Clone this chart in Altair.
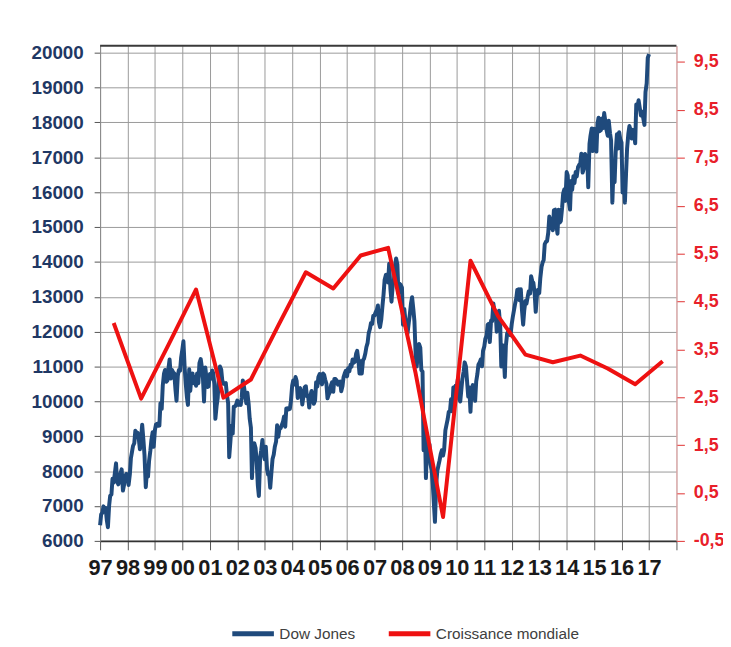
import altair as alt
import pandas as pd

# Dow Jones, semi-monthly readings (1st and 15th of each month)
DOW_1997 = [6448, 6760, 6813, 6990, 6877, 6950, 6584, 6391, 7009, 7290, 7331, 7780,
            7673, 7920, 8223, 7700, 7622, 7750, 7945, 8050, 7442, 7600, 7823, 7920]
DOW_1998 = [7908, 7600, 7907, 8370, 8546, 8720, 8800, 9160, 9063, 9100, 8900, 8630,
            8952, 9330, 8883, 8460, 7539, 7950, 7843, 8300, 8592, 8900, 9117, 8700]
DOW_1999 = [9181, 9340, 9359, 9300, 9307, 9950, 9786, 10460, 10789, 10900, 10560, 10600,
            10971, 11200, 10655, 10900, 10829, 10800, 10337, 10020, 10730, 10900, 10878, 11250]
DOW_2000 = [11497, 11723, 10940, 10500, 10128, 9900, 10922, 10300, 10734, 10800, 10522, 10700,
            10448, 10800, 10522, 11100, 11215, 11000, 10651, 10000, 10971, 10700, 10415, 10430]
DOW_2001 = [10787, 10650, 10887, 10800, 10495, 9500, 9879, 10100, 10735, 11000, 10912, 10600,
            10502, 10500, 10523, 10200, 9950, 8400, 8848, 9300, 9075, 9850, 9852, 9900]
DOW_2002 = [10022, 9900, 9920, 9900, 10106, 10600, 10404, 10200, 9946, 10250, 9925, 9500,
            9243, 7800, 8737, 8800, 8664, 8300, 7592, 7286, 8397, 8600, 8896, 8500]
DOW_2003 = [8342, 8700, 8054, 7900, 7891, 7520, 7992, 8350, 8480, 8700, 8850, 9320,
            8985, 9200, 9234, 9320, 9416, 9570, 9275, 9800, 9801, 9770, 9782, 10000]
DOW_2004 = [10454, 10600, 10488, 10700, 10584, 10100, 10358, 10380, 10226, 9910, 10188, 10400,
            10435, 10150, 10140, 9825, 10174, 10300, 10080, 9930, 10027, 10550, 10428, 10700]
DOW_2005 = [10783, 10560, 10490, 10800, 10766, 10630, 10504, 10090, 10193, 10250, 10467, 10550,
            10275, 10640, 10641, 10600, 10482, 10560, 10569, 10290, 10440, 10700, 10806, 10880]
DOW_2006 = [10718, 10950, 10865, 11050, 10993, 11200, 11109, 11140, 11367, 11450, 11168, 10800,
            11150, 10800, 11186, 11230, 11381, 11560, 11679, 11950, 12081, 12250, 12221, 12450]
DOW_2007 = [12463, 12550, 12622, 12750, 12269, 12130, 12354, 12700, 13063, 13480, 13628, 13640,
            13409, 13950, 13212, 12860, 13358, 13450, 13896, 14100, 13930, 13100, 13372, 13340]
DOW_2008 = [13265, 12200, 12650, 12350, 12266, 11950, 12263, 12500, 12820, 12990, 12638, 12300,
            11350, 11000, 11378, 11650, 11544, 10900, 10851, 8600, 9325, 7800, 8829, 8600]
DOW_2009 = [8776, 8200, 8001, 7600, 7063, 6547, 7609, 8000, 8168, 8300, 8500, 8600,
            8447, 8600, 9172, 9320, 9496, 9700, 9712, 10060, 9713, 10400, 10345, 10450]
DOW_2010 = [10428, 10650, 10067, 10000, 10325, 10650, 10857, 11120, 11009, 10620, 10137, 10400,
            9700, 10360, 10466, 10300, 10015, 10570, 10788, 11060, 11118, 11200, 11006, 11450]
DOW_2011 = [11578, 11800, 11892, 12200, 12226, 11700, 12320, 12300, 12811, 12600, 12570, 12000,
            12414, 12600, 12143, 11000, 11614, 11400, 10700, 11600, 11955, 12000, 12046, 11900]
DOW_2012 = [12218, 12420, 12633, 12800, 12952, 13200, 13212, 12900, 13214, 12650, 12200, 12600,
            12880, 12800, 13009, 13160, 13091, 13590, 13437, 13400, 13096, 12570, 13026, 13200]
DOW_2013 = [13104, 13530, 13861, 13980, 14054, 14510, 14579, 14600, 14840, 15300, 15116, 15000,
            14910, 15480, 15500, 15100, 14810, 15500, 15130, 15170, 15546, 15960, 16086, 15750]
DOW_2014 = [16577, 16480, 15699, 15500, 16322, 16065, 16458, 16260, 16581, 16450, 16717, 16780,
            16827, 17100, 16563, 16660, 17098, 17030, 17043, 16140, 17391, 17630, 17828, 17180]
DOW_2015 = [17823, 17320, 17165, 17970, 18133, 17750, 17776, 18110, 17841, 18270, 18011, 17790,
            17620, 18050, 17690, 17480, 15700, 16600, 16285, 17140, 17664, 17250, 17720, 17520]
DOW_2016 = [17425, 15990, 16466, 15700, 16517, 17250, 17685, 17900, 17774, 17540, 17787, 17670,
            17400, 18516, 18432, 18636, 18401, 18200, 18308, 18140, 17930, 18870, 19124, 19850]
DOW_2017 = [19960]

# World growth (%), annual, plotted at mid-year
GDP_YEARS = list(range(1997, 2018))
GDP_GROWTH = [4.05, 2.47, 3.6, 4.75, 2.49, 2.87, 4.0, 5.11, 4.77, 5.46, 5.62,
              3.0, 0.0, 5.35, 4.2, 3.39, 3.23, 3.37, 3.1, 2.77, 3.25]

SERIES = ["Dow Jones", "Croissance mondiale"]
COLORS = ["#1F4A7C", "#EE1111"]
LEFT_TICKS = list(range(6000, 20001, 1000))
RIGHT_TICKS = [-0.5, 0.5, 1.5, 2.5, 3.5, 4.5, 5.5, 6.5, 7.5, 8.5, 9.5]
X_YEARS = list(range(1997, 2019))

FONT = "Liberation Sans"

dow_values = (DOW_1997 + DOW_1998 + DOW_1999 + DOW_2000 + DOW_2001 + DOW_2002 + DOW_2003
              + DOW_2004 + DOW_2005 + DOW_2006 + DOW_2007 + DOW_2008 + DOW_2009 + DOW_2010
              + DOW_2011 + DOW_2012 + DOW_2013 + DOW_2014 + DOW_2015 + DOW_2016 + DOW_2017)
dow_dates = pd.date_range("1997-01-01", periods=len(dow_values), freq="SMS").strftime("%Y-%m-%d")
dow = pd.DataFrame({"date": list(dow_dates), "value": dow_values, "series": SERIES[0]})
gdp = pd.DataFrame({"date": [f"{y}-07-01" for y in GDP_YEARS], "value": GDP_GROWTH,
                    "series": SERIES[1]})

W, H = 582, 500

x_enc = alt.X(
    "date:T",
    title=None,
    scale=alt.Scale(type="utc", domain=[alt.DateTime(year=1997, month=1, date=1, utc=True),
                                        alt.DateTime(year=2018, month=1, date=1, utc=True)]),
    axis=alt.Axis(
        values=[alt.DateTime(year=y, month=1, date=1, utc=True) for y in X_YEARS],
        labelExpr="utcyear(datum.value) >= 2018 ? '' : utcFormat(datum.value, '%y')",
        labelFont=FONT, labelFontSize=22, labelFontWeight="bold", labelColor="#1a1a1a",
        labelOverlap=False, labelFlush=False, labelPadding=8,
        tickSize=9, tickColor="#555555", tickWidth=1,
        domainColor="#333333", domainWidth=2,
        grid=True, gridColor="#9a9a9a", gridWidth=1,
    ),
)

color = alt.Color(
    "series:N",
    scale=alt.Scale(domain=SERIES, range=COLORS),
    legend=alt.Legend(
        title=None, orient="none", legendX=131, legendY=570, direction="horizontal",
        symbolType="stroke", symbolSize=1764, symbolStrokeWidth=5,
        labelFont=FONT, labelFontSize=15.5, labelColor="#404040", labelOffset=3,
        columnPadding=23,
    ),
)

dow_line = alt.Chart(dow).mark_line(strokeWidth=4, strokeJoin="round").encode(
    x=x_enc,
    y=alt.Y("value:Q", title=None,
            scale=alt.Scale(domain=[6000, 20200], nice=False, zero=False),
            axis=alt.Axis(orient="left", values=LEFT_TICKS, format="d",
                          labelFont=FONT, labelFontSize=19, labelFontWeight="bold",
                          labelColor="#1F3864", labelPadding=11, labelOverlap=False,
                          tickSize=6, tickColor="#555555",
                          domainColor="#8a8a8a", domainWidth=1,
                          grid=True, gridColor="#9a9a9a", gridWidth=1)),
    color=color,
)

gdp_line = alt.Chart(gdp).mark_line(strokeWidth=4, strokeJoin="round").encode(
    x=x_enc,
    y=alt.Y("value:Q", title=None,
            scale=alt.Scale(domain=[-0.5, 9.84], nice=False, zero=False),
            axis=alt.Axis(orient="right", values=RIGHT_TICKS,
                          labelExpr="replace(replace(format(datum.value, '.1f'), '.', ','), '\u2212', '-')",
                          labelFont=FONT, labelFontSize=18, labelFontWeight="bold",
                          labelColor="#E8202A", labelPadding=9, labelOverlap=False,
                          tickSize=8, tickColor="#E03030",
                          domainColor="#F0A8A8", domainWidth=1, grid=False)),
    color=color,
)

top_border = alt.Chart(pd.DataFrame({"k": [0]})).mark_rule(
    color="#3a3a3a", strokeWidth=2
).encode(x=alt.value(0), x2=alt.value(W), y=alt.value(0))

chart = (
    alt.layer(dow_line, gdp_line, top_border)
    .resolve_scale(y="independent")
    .properties(
        width=W, height=H,
        padding={"left": 93, "top": 35, "right": 47, "bottom": 98},
        autosize=alt.AutoSizeParams(type="none"),
    )
    .configure_view(strokeWidth=0)
)

chart.save("out.html", embed_options={"renderer": "svg", "actions": False})
